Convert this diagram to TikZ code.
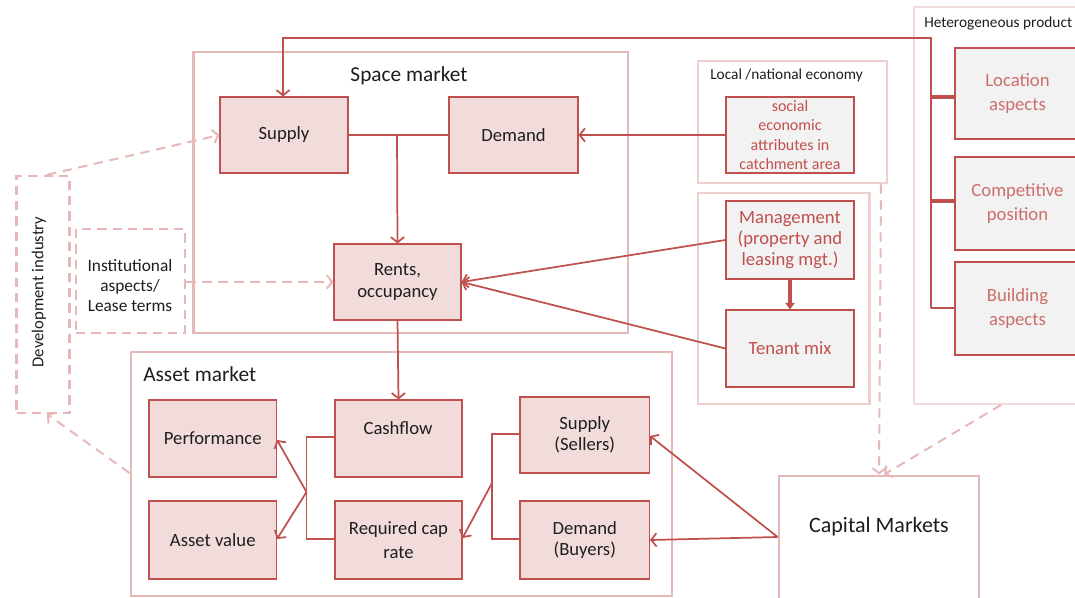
\documentclass[tikz,border=0pt]{standalone}
\usepackage{fontspec}
\setmainfont{Carlito}
\usetikzlibrary{arrows.meta}
\definecolor{cred}{HTML}{C0504D}
\definecolor{cpink}{HTML}{F2DCDB}
\definecolor{couter}{HTML}{E6B9B8}
\definecolor{clight}{HTML}{EDCFCE}
\definecolor{chetb}{HTML}{F2DCDB}
\definecolor{cgrey}{HTML}{F2F2F2}
\definecolor{ctext}{HTML}{1E1E1E}
\definecolor{chet}{HTML}{CC6E6B}
\tikzset{
  bx/.style n args={4}{minimum width={(#3-#1)*0.75pt}, minimum height={(#4-#2)*0.75pt},
    at={({(#1+#3)/2},{(#2+#4)/2})}},
  outerbox/.style={draw=couter, line width=2.1pt, inner sep=0pt},
  lightbox/.style={draw=clight, line width=2pt, inner sep=0pt},
  hetbox/.style={draw=chetb, line width=1.4pt, inner sep=0pt},
  pbox/.style={draw=cred, fill=cpink, line width=0.8pt, inner sep=0pt, align=center,
    font=\fontsize{14}{16}\selectfont, text=ctext},
  gbox/.style={draw=cred, fill=cgrey, line width=0.8pt, inner sep=0pt, align=center,
    font=\fontsize{14}{16}\selectfont, text=cred},
  hbox/.style={gbox, text=chet, font=\fontsize{14}{17.5}\selectfont},
  dashbox/.style={draw=couter, line width=1.8pt, dash pattern=on 7pt off 4.5pt, inner sep=0pt},
  conn/.style={draw=cred, line width=1.3pt},
  tipA/.style={-{Straight Barb[length=4pt,width=10pt]}},
  dline/.style={draw=couter, line width=1.5pt, dash pattern=on 7pt off 5pt},
  title/.style={font=\fontsize{16}{19}\selectfont, text=ctext, inner sep=0pt},
  small/.style={font=\fontsize{11.5}{14}\selectfont, text=ctext, inner sep=0pt},
}
\begin{document}
\begin{tikzpicture}[x=0.75pt,y=-0.75pt]
\clip (0,0) rectangle (1075,597);
\fill[white] (0,0) rectangle (1075,597);

% containers
\node[outerbox, bx={193.5}{52}{628}{333}] (space) {};
\node[outerbox, bx={131}{352}{672}{596}] (asset) {};
\node[lightbox, bx={698}{61}{887}{183}] (local) {};
\node[lightbox, bx={698}{193}{869.5}{404}] (mgmtouter) {};
\node[hetbox, bx={914}{7}{1090}{404}] (het) {};
\node[outerbox, bx={779}{476}{979}{600}] (capital) {};
\node[dashbox, bx={16.5}{176}{69.5}{413}] (dev) {};
\node[dashbox, bx={76}{229}{185}{333}] (inst) {};

% titles
\node[title] (spacet) at (409,76) {Space market};
\node[title, anchor=west] (assett) at (143,374) {Asset market};
\node[small, anchor=west] (localt) at (710,75) {Local /national economy};
\node[small, anchor=west] (hett) at (924,23) {Heterogeneous product};
\node[title, font=\fontsize{16.5}{19}\selectfont] (capitalt) at (879,527) {Capital Markets};
\node[font=\fontsize{12.5}{15}\selectfont, text=ctext, rotate=90, inner sep=0pt] (devt) at (39,292) {Development industry};
\node[font=\fontsize{13}{15}\selectfont, text=ctext, align=center, inner sep=0pt] (instt) at (130,286) {Institutional\\aspects/\\Lease terms};

% coordinates for connectors
\coordinate (topL) at (283,38);
\coordinate (topR) at (931,38);
\coordinate (hetB) at (931,308);
\coordinate (jS) at (397,134);
\coordinate (cfL) at (306.5,437);
\coordinate (cfB) at (306.5,539);
\coordinate (cfM) at (306.5,492);
\coordinate (ssL) at (492,434);
\coordinate (ssB) at (492,539);
\coordinate (ssM) at (492,483);

% boxes
\node[pbox, bx={220}{97}{348}{173}] (supply) {Supply};
\node[pbox, bx={449}{97}{578}{173}] (demand) {Demand};
\node[pbox, bx={334}{244}{461}{320}, font=\fontsize{14}{17}\selectfont] (rents) {Rents,\\occupancy};
\node[pbox, bx={149}{400}{276.5}{477}] (perf) {Performance};
\node[pbox, bx={149}{501}{276.5}{579}] (avalue) {Asset value};
\node[pbox, bx={335}{400}{462}{477}] (cash) {};
\node[font=\fontsize{14}{16}\selectfont, text=ctext, inner sep=0pt] (cashlbl) at (398,428) {Cashflow};
\node[pbox, bx={335}{501}{462}{579}, font=\fontsize{14}{17.5}\selectfont] (reqcap) {Required cap\\rate};
\node[pbox, bx={520}{397}{649.5}{473}, font=\fontsize{14}{16}\selectfont] (ssell) {Supply\\(Sellers)};
\node[pbox, bx={520}{501}{649.5}{579}, font=\fontsize{14}{16}\selectfont] (dbuy) {Demand\\(Buyers)};
\node[gbox, bx={726}{97}{854}{173}, font=\fontsize{12}{14.6}\selectfont] (social) {social\\economic\\attributes in\\catchment area};
\node[gbox, bx={726}{201}{854}{279}, font=\fontsize{14}{15.8}\selectfont] (mgmt) {Management\\(property and\\leasing mgt.)};
\node[gbox, bx={726}{310}{854}{387}] (tenant) {Tenant mix};
\node[hbox, bx={955}{48}{1080}{139}] (loc) {Location\\aspects};
\node[hbox, bx={955}{157}{1080}{250}] (comp) {Competitive\\position};
\node[hbox, bx={955}{262}{1080}{355}] (build) {Building\\aspects};

% connectors (space market)
\draw[conn, tipA] (hetB) -- (topR) -- (topL) -- (supply.north -| topL);
\draw[conn, line width=2.6pt] (loc.west |- 0,97) -- (931,97);
\draw[conn, line width=2.6pt] (comp.west |- 0,201) -- (931,201);
\draw[conn, line width=1.6pt] (build.west |- 0,308) -- (hetB);
\draw[conn] (supply.east) -- (demand.west);
\draw[conn, tipA] (jS) -- (rents.north);
\draw[conn, tipA] (social.west) -- (demand.east);
\draw[conn, tipA] (mgmt.west) -- (rents.east);
\draw[conn, tipA] (tenant.west) -- (rents.east);
\draw[conn, line width=2.4pt, -{Triangle[length=5pt,width=7pt]}] (mgmt.south) -- (tenant.north);
\draw[conn, tipA] (rents.south) -- (cash.north);

% connectors (asset market)
\draw[conn] (cash.west |- cfL) -- (cfL) -- (cfB) -- (reqcap.west |- cfB);
\draw[conn, tipA] (cfM) -- (perf.east |- 0,440);
\draw[conn, tipA] (cfM) -- (avalue.east |- 0,539);
\draw[conn] (ssell.west |- ssL) -- (ssL) -- (ssB) -- (dbuy.west |- ssB);
\draw[conn, tipA] (ssM) -- (reqcap.east |- 0,538);
\draw[conn, tipA] (capital.west |- 0,537) -- (ssell.east |- 0,436);
\draw[conn, tipA] (capital.west |- 0,537) -- (dbuy.east |- 0,540);

% dashed connectors
\draw[dline, tipA] (dev.north -| 47,0) -- (supply.west);
\draw[dline, tipA] (asset.west |- 0,473) -- (dev.south -| 47,0);
\draw[dline, tipA] (inst.east |- rents.west) -- (rents.west);
\draw[dline, tipA] (local.south -| 881,0) -- (capital.north -| 879,0);
\draw[dline, tipA] (het.south -| 1001,0) -- (capital.north -| 884,0);
\end{tikzpicture}
\end{document}
